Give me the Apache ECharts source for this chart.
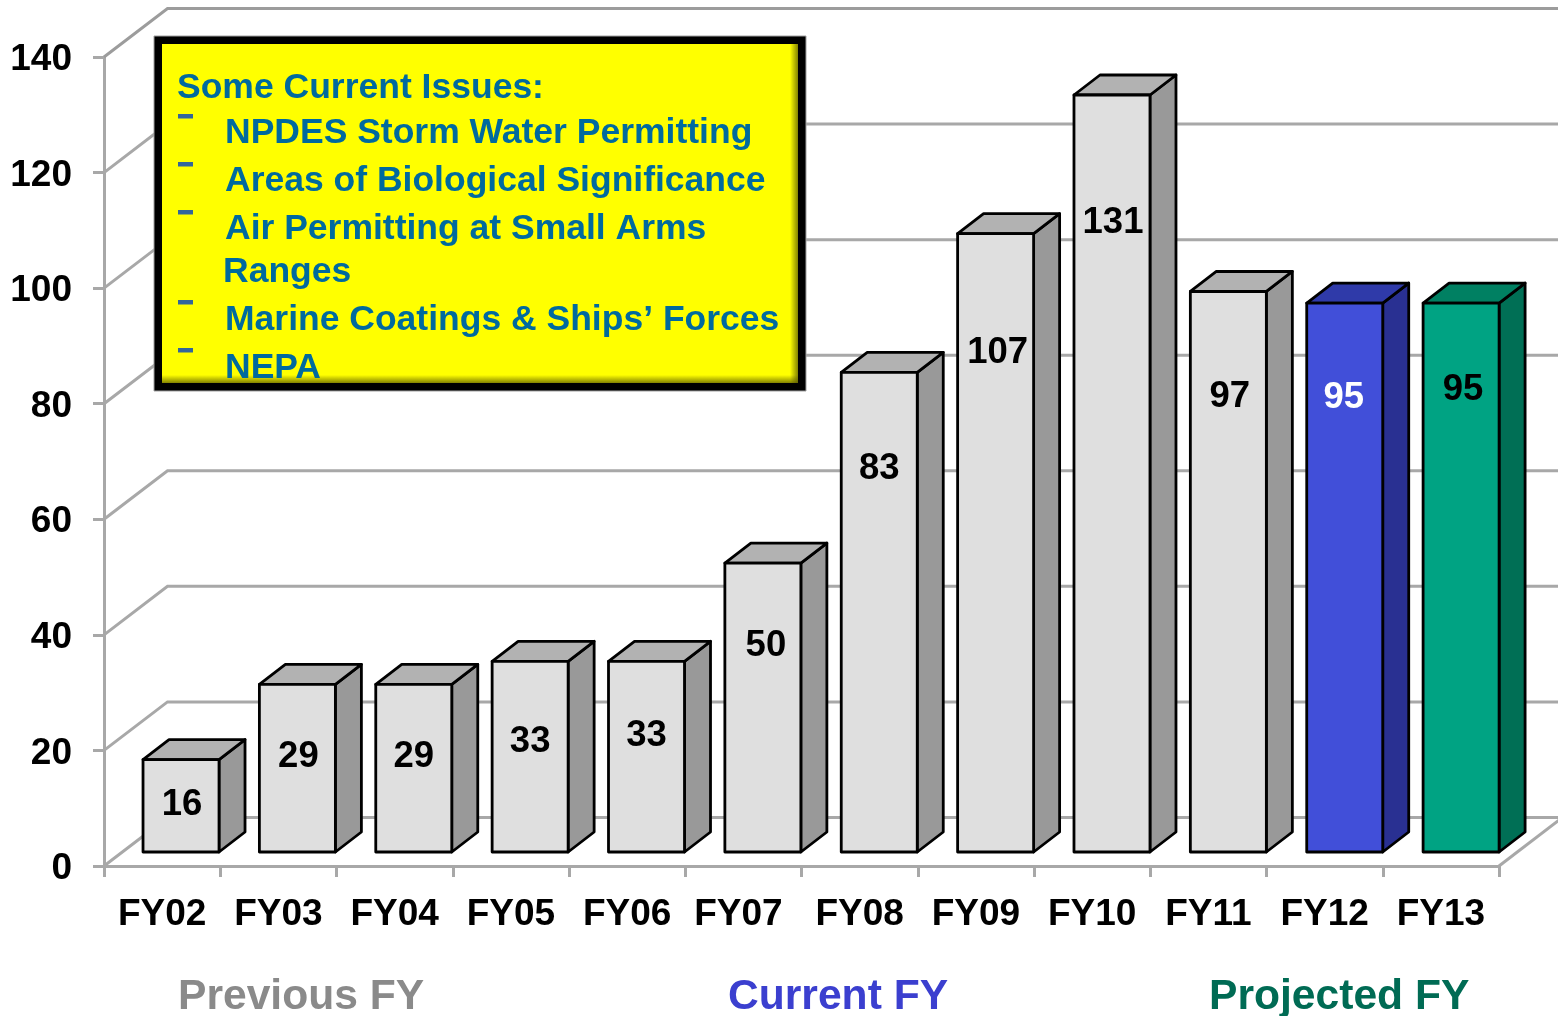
<!DOCTYPE html>
<html>
<head>
<meta charset="utf-8">
<style>html,body{margin:0;padding:0;background:#fff}#c{width:1558px;height:1016px}</style>
<script src="https://cdn.jsdelivr.net/npm/echarts@6/dist/echarts.min.js"></script>
</head>
<body>
<div id="c"></div>
<script>
const categories = ['FY02','FY03','FY04','FY05','FY06','FY07','FY08','FY09','FY10','FY11','FY12','FY13'];
const values = [16,29,29,33,33,50,83,107,131,97,95,95];
const periods = ['prev','prev','prev','prev','prev','prev','prev','prev','prev','prev','current','projected'];
const yTicks = [0,20,40,60,80,100,120,140];
const issuesTitle = 'Some Current Issues:';
const issues = ['NPDES Storm Water Permitting','Areas of Biological Significance','Air Permitting at Small Arms','Ranges','Marine Coatings & Ships\u2019 Forces','NEPA'];
const groupNames = ['Previous FY','Current FY','Projected FY'];

// styling / layout (not data)
const FONT = '"Liberation Sans", Arial, sans-serif';
const palette = {
  prev: {front:'#DFDFDF', top:'#B2B2B2', side:'#999999', label:'#000000'},
  current: {front:'#414FD9', top:'#2F3AA9', side:'#293092', label:'#FFFFFF'},
  projected: {front:'#00A383', top:'#008062', side:'#006F55', label:'#000000'}
};
const labelDx = [1,1,0,0,0,3,0,2,1,1.5,-1,2];
const labelDy = [-1,-11,-11,-15,-21,-62,-143,-190,-251,-175,-180,-188];
const wall = {dx:63.5, dy:48.5};
const bar = {width:76, dx:26, dy:20, lift:14, shift:18.9, drift:0.12};
const wallColor = '#A8A8A8';

function renderWall(params, api){
  const v = api.value(0);
  const p = api.coord([0, v]);
  const xStart = p[0] - api.size([1,0])[0]/2, y = p[1];
  const xEnd = 1570;
  return {
    type:'polyline', silent:true,
    shape:{points:[[xStart,y],[xStart+wall.dx,y-wall.dy],[xEnd,y-wall.dy]]},
    style:{fill:null, stroke: v===140 ? '#9C9C9C' : wallColor, lineWidth:3}
  };
}
function renderFloorEdge(params, api){
  const p = api.coord([api.value(0), 0]);
  const x = p[0] + api.size([1,0])[0]/2, y = p[1];
  return {
    type:'line', silent:true,
    shape:{x1:x,y1:y,x2:x+wall.dx,y2:y-wall.dy},
    style:{stroke:wallColor, lineWidth:3}
  };
}
function renderBar(params, api){
  const i = api.value(0);
  const v = api.value(1);
  const c = palette[periods[i]];
  const top = api.coord([i, v]);
  const base = api.coord([i, 0]);
  const cx = top[0] + bar.shift + bar.drift*i;
  const l = cx - bar.width/2, r = cx + bar.width/2;
  const b = base[1] - bar.lift, t = top[1] - bar.lift;
  const edge = {stroke:'#000', lineWidth:2.8, lineJoin:'round'};
  return {
    type:'group',
    children:[
      {type:'polygon', shape:{points:[[r,t],[r+bar.dx,t-bar.dy],[r+bar.dx,b-bar.dy],[r,b]]}, style:Object.assign({fill:c.side},edge)},
      {type:'polygon', shape:{points:[[l,t],[l+bar.dx,t-bar.dy],[r+bar.dx,t-bar.dy],[r,t]]}, style:Object.assign({fill:c.top},edge)},
      {type:'rect', shape:{x:l,y:t,width:bar.width,height:b-t}, style:Object.assign({fill:c.front},edge)},
      {type:'text', style:{text:String(v), x:cx+labelDx[i], y:(t+b)/2+labelDy[i], align:'center', verticalAlign:'middle', fill:c.label, font:'bold 36.5px '+FONT}}
    ]
  };
}

const boxZ = 100;
const textBlue = '#006A9E';
const box = {x:154,y:36,w:652,h:355,b:8};
const lineY = [133,181,229,272,320,368];
const lineX = [225,225,225,223,225,225];
const dashY = [116,164,212,302,350];
const graphics = [
  {type:'rect', z:boxZ, shape:{x:box.x,y:box.y,width:box.w,height:box.h}, style:{fill:'#000', stroke:'#A0A0A0', lineWidth:1}},
  {type:'rect', z:boxZ, shape:{x:box.x+box.b,y:box.y+box.b,width:box.w-2*box.b,height:box.h-2*box.b}, style:{fill:'#FFFF00'}},
  {type:'rect', z:boxZ, shape:{x:box.x+box.w-box.b-8,y:box.y+box.b,width:8,height:box.h-2*box.b},
    style:{fill:new echarts.graphic.LinearGradient(0,0,1,0,[{offset:0,color:'rgba(90,90,0,0)'},{offset:1,color:'rgba(90,90,0,0.75)'}])}},
  {type:'rect', z:boxZ, shape:{x:box.x+box.b,y:box.y+box.h-box.b-8,width:box.w-2*box.b,height:8},
    style:{fill:new echarts.graphic.LinearGradient(0,0,0,1,[{offset:0,color:'rgba(90,90,0,0)'},{offset:1,color:'rgba(90,90,0,0.75)'}])}},
  {type:'text', z:boxZ+1, style:{text:issuesTitle, x:177, y:88, verticalAlign:'middle', fill:textBlue, font:'bold 35.5px '+FONT}}
];
issues.forEach((s,k)=>graphics.push({type:'text', z:boxZ+1, style:{text:s, x:lineX[k], y:lineY[k], verticalAlign:'middle', fill:textBlue, font:'bold 35.5px '+FONT}}));
dashY.forEach(y=>graphics.push({type:'rect', z:boxZ+1, shape:{x:178,y:y-2,width:15,height:4.5}, style:{fill:'#33669A'}}));
const groupX = [178,728,1209];
const groupColors = ['#8A8A8A','#3B3FCF','#006B54'];
groupNames.forEach((s,k)=>graphics.push({type:'text', z:boxZ, style:{text:s, x:groupX[k], y:997, verticalAlign:'middle', fill:groupColors[k], font:'bold 42.6px '+FONT}}));

const chart = echarts.init(document.getElementById('c'), null, {renderer:'canvas'});
chart.setOption({
  animation:false,
  backgroundColor:'#fff',
  grid:{left:104, right:59, top:57, bottom:150, containLabel:false},
  xAxis:{
    type:'category',
    data:categories.map(c => c === 'FY07' ? {value:c, textStyle:{padding:[0,10,0,0]}} : c),
    boundaryGap:true,
    axisLine:{show:true, onZero:false, lineStyle:{color:wallColor, width:3}},
    axisTick:{show:true, alignWithLabel:false, length:11, lineStyle:{color:wallColor, width:3}},
    axisLabel:{show:true, interval:0, margin:30, color:'#000', fontFamily:FONT, fontWeight:'bold', fontSize:37},
    splitLine:{show:false}
  },
  yAxis:{
    type:'value', min:0, max:140, interval:20,
    axisLine:{show:true, lineStyle:{color:wallColor, width:3}},
    axisTick:{show:true, length:11, lineStyle:{color:wallColor, width:3}},
    axisLabel:{show:true, margin:32, formatter:'{n|{value}}',
      rich:{n:{padding:[6,0,0,0], color:'#000', fontFamily:FONT, fontWeight:'bold', fontSize:37}}},
    splitLine:{show:false}
  },
  series:[
    {type:'custom', z:1, clip:false, silent:true, renderItem:renderWall, encode:{y:0}, data:yTicks.map(v=>[v])},
    {type:'custom', z:1, clip:false, silent:true, renderItem:renderFloorEdge, encode:{x:0}, data:[[11]]},
    {type:'custom', z:2, clip:false, silent:true, renderItem:renderBar, encode:{x:0,y:1}, data:values.map((v,i)=>[i,v])}
  ],
  graphic:graphics
});
</script>
</body>
</html>
